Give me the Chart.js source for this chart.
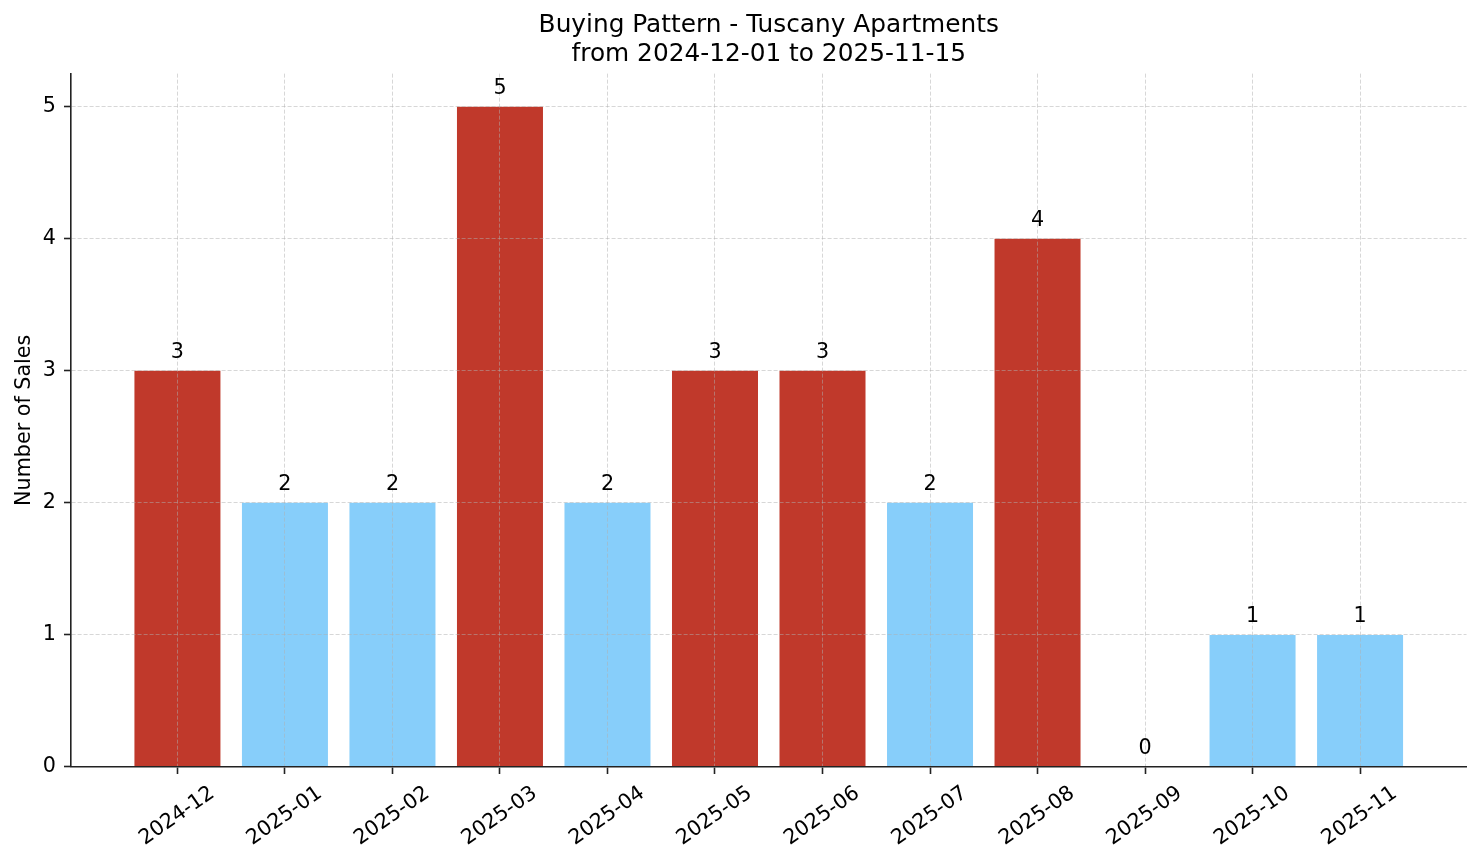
<!DOCTYPE html>
<html>
<head>
<meta charset="utf-8">
<script src="https://cdn.jsdelivr.net/npm/chart.js@4"></script>
<style>
  html, body { margin: 0; padding: 0; background: #ffffff; }
  #wrap { width: 1481px; height: 863px; position: relative; }
</style>
</head>
<body>
<div id="wrap"><canvas id="c" width="1481" height="863"></canvas></div>
<script>
// ---- data ----
const months = ['2024-12', '2025-01', '2025-02', '2025-03', '2025-04', '2025-05',
                '2025-06', '2025-07', '2025-08', '2025-09', '2025-10', '2025-11'];
const sales = [3, 2, 2, 5, 2, 3, 3, 2, 4, 0, 1, 1];
const yTicks = [0, 1, 2, 3, 4, 5];
const titleLines = ['Buying Pattern - Tuscany Apartments', 'from 2024-12-01 to 2025-11-15'];
const yTitle = 'Number of Sales';

// ---- styling ----
const RED = '#c0392b';
const BLUE = '#87cefa';
const mean = sales.reduce((a, b) => a + b, 0) / sales.length;
const barColors = sales.map(v => (v > mean ? RED : BLUE));
const FONT = 'DejaVu Sans';
const FS = 20.7;
const GRID = 'rgba(176,176,176,0.5)';
const AXIS = '#222222';

Chart.defaults.color = '#000000';
Chart.defaults.font.family = FONT;

const valueLabels = {
  id: 'valueLabels',
  afterDraw(chart) {
    const ctx = chart.ctx;
    const meta = chart.getDatasetMeta(0);
    ctx.save();
    ctx.font = FS + 'px "' + FONT + '"';
    ctx.fillStyle = '#000000';
    ctx.textAlign = 'center';
    ctx.textBaseline = 'alphabetic';
    meta.data.forEach((bar, i) => {
      ctx.fillText(String(sales[i]), bar.x, bar.y - 13);
    });
    ctx.restore();
  }
};

const gridOpts = {
  display: true,
  offset: false,
  color: GRID,
  lineWidth: 1,
  z: 1,
  drawTicks: true,
  tickLength: 7,
  tickColor: AXIS,
  tickWidth: 1.6,
  tickBorderDash: []
};

new Chart(document.getElementById('c'), {
  type: 'bar',
  data: {
    datasets: [{
      data: sales.map((v, i) => ({ x: i, y: v })),
      backgroundColor: barColors,
      borderWidth: 0,
      barPercentage: 0.8,
      categoryPercentage: 1.0
    }]
  },
  options: {
    responsive: false,
    devicePixelRatio: 1,
    animation: false,
    layout: { padding: { left: 0, right: 14.5, top: 0, bottom: 0 } },
    plugins: {
      legend: { display: false },
      tooltip: { enabled: false },
      title: {
        display: true,
        text: titleLines,
        fullSize: false,
        color: '#000000',
        font: { family: FONT, size: 24.8, weight: 'normal', lineHeight: 1.17 },
        padding: { top: 11, bottom: 4.6 }
      }
    },
    scales: {
      x: {
        type: 'linear',
        offset: false,
        min: -0.99,
        max: 11.99,
        afterFit(scale) { scale.height = 96; },
        grid: gridOpts,
        border: { display: true, color: AXIS, width: 1.6, dash: [4, 2], z: 2 },
        ticks: {
          stepSize: 1,
          autoSkip: false,
          includeBounds: false,
          minRotation: 35,
          maxRotation: 35,
          padding: 7,
          labelOffset: 35,
          color: '#000000',
          font: { family: FONT, size: FS },
          callback: (v) => (Number.isInteger(v) && v >= 0 && v < months.length ? months[v] : '')
        }
      },
      y: {
        type: 'linear',
        offset: false,
        min: 0,
        max: 5.25,
        afterFit(scale) { scale.width = 71; },
        grid: gridOpts,
        border: { display: true, color: AXIS, width: 1.6, dash: [4, 2], z: 2 },
        ticks: {
          stepSize: 1,
          includeBounds: false,
          padding: 8,
          color: '#000000',
          font: { family: FONT, size: FS },
          callback: (v) => (yTicks.includes(v) ? String(v) : '')
        },
        title: {
          display: true,
          text: yTitle,
          color: '#000000',
          font: { family: FONT, size: FS, weight: 'normal', lineHeight: 1.2 },
          padding: { top: 12.5, bottom: 0 }
        }
      }
    }
  },
  plugins: [valueLabels]
});
</script>
</body>
</html>
